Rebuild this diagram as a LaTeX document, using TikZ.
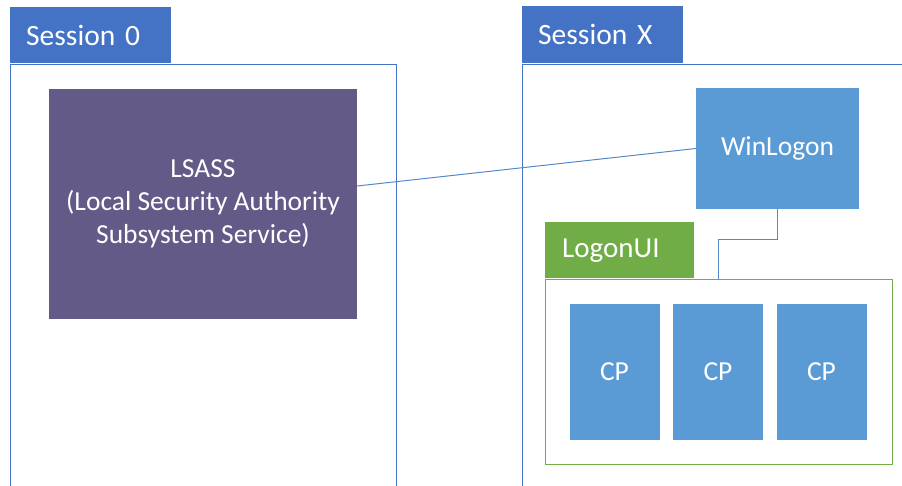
\documentclass[tikz,border=0pt]{standalone}
\usepackage{fontspec}
\setmainfont{Carlito}
\usepackage{tikz}

\definecolor{sessblue}{HTML}{4472C4}
\definecolor{procblue}{HTML}{5B9BD5}
\definecolor{linkblue}{HTML}{5588CC}
\definecolor{lsapurple}{HTML}{635A87}
\definecolor{uigreen}{HTML}{70AD47}

\tikzset{
	tab/.style={anchor=north west, text=white, minimum height=56pt, align=left,
		inner xsep=16pt, text width=129pt, font=\fontsize{29.5}{34}\selectfont},
	frame/.style={draw=sessblue, line width=1pt, anchor=north west, minimum height=460pt},
	proc/.style={fill=procblue, text=white, font=\fontsize{27.5}{33}\selectfont},
	link/.style={draw=linkblue, line width=1pt},
}

\begin{document}
\begin{tikzpicture}[x=1pt, y=-1pt]
	\useasboundingbox (0,0) rectangle (902,486);
	% session 0
	\node[frame, minimum width=386.5pt] (s0) at (9.5,64.5) {};
	\node[tab, fill=sessblue] (s0tab) at (10,7) {Session 0};
	\node[proc, fill=lsapurple, align=center, minimum width=308pt, minimum height=230pt] (lsass) at (203,204) {LSASS\\(Local Security Authority\\Subsystem Service)};
	% session x
	\node[frame, minimum width=420pt] (sx) at (521.5,64) {};
	\node[tab, fill=sessblue, minimum height=57pt] (sxtab) at (522,6) {Session X};
	\node[proc, minimum width=163pt, minimum height=121pt] (win) at (777.5,148.5) {WinLogon};
	% logon ui
	\node[tab, fill=uigreen, inner xsep=17pt, text width=115pt, font=\fontsize{29}{34}\selectfont] (uitab) at (545,222) {LogonUI};
	\node[draw=uigreen, line width=1pt, anchor=north west, minimum width=347pt, minimum height=184.5pt] (ui) at (544.5,279) {};
		\node[proc, minimum width=90pt, minimum height=136pt] (cp1) at (614.5,372) {CP};
		\node[proc, minimum width=90pt, minimum height=136pt] (cp2) at (718,372) {CP};
		\node[proc, minimum width=90pt, minimum height=136pt] (cp3) at (821.5,372) {CP};
	% connectors
	\coordinate (bend) at (718,239.5);
	\draw[link] ([yshift=18pt]lsass.east) -- (win.west);
	\draw[link] (win.south) |- (bend) -- (bend |- ui.north);
\end{tikzpicture}
\end{document}
